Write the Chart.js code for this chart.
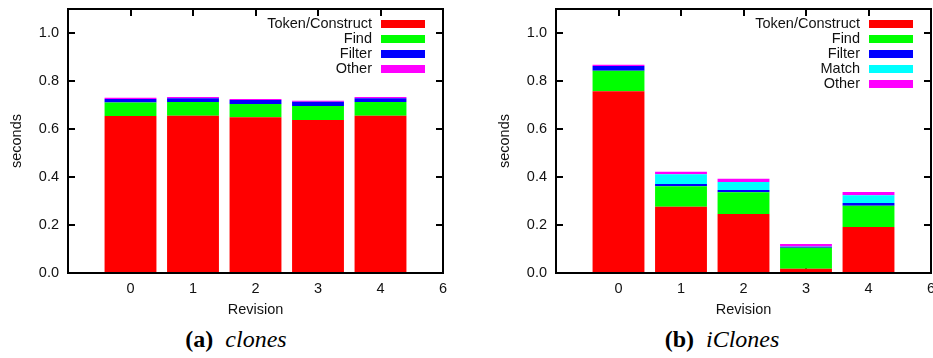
<!DOCTYPE html>
<html>
<head>
<meta charset="utf-8">
<script src="https://cdn.jsdelivr.net/npm/chart.js@4/dist/chart.umd.min.js"></script>
<style>
  html, body { margin: 0; padding: 0; background: #fff; }
  body { position: relative; width: 933px; height: 358px; overflow: hidden; }
  canvas { position: absolute; top: 0; }
  #clonesChart { left: 0; }
  #iclonesChart { left: 488px; }
  .caption { position: absolute; top: 326px; font-family: "Liberation Serif", serif; font-size: 24px; color: #000; white-space: nowrap; transform: translateX(-50%); }
  .caption b { margin-right: 12px; }
</style>
</head>
<body>
<canvas id="clonesChart" width="466" height="325"></canvas>
<canvas id="iclonesChart" width="466" height="325"></canvas>
<div class="caption" style="left:236px"><b>(a)</b><i>clones</i></div>
<div class="caption" style="left:722px"><b>(b)</b><i>iClones</i></div>
<script>
const revisions = [0, 1, 2, 3, 4];
const xTickValues = [0, 1, 2, 3, 4, 5];
const xTickLabels = ["0", "1", "2", "3", "4", "6"];
const yTicks = [0, 0.2, 0.4, 0.6, 0.8, 1.0];

// (a) clones
const clonesToken = [0.654, 0.655, 0.649, 0.638, 0.655];
const clonesFind = [0.056, 0.057, 0.055, 0.058, 0.057];
const clonesFilter = [0.015, 0.016, 0.017, 0.018, 0.016];
const clonesOther = [0.005, 0.005, 0.004, 0.004, 0.005];

// (b) iClones
const iclonesToken = [0.757, 0.276, 0.246, 0.018, 0.192];
const iclonesFind = [0.086, 0.085, 0.090, 0.087, 0.088];
const iclonesFilter = [0.020, 0.010, 0.010, 0.004, 0.012];
const iclonesMatch = [0.000, 0.040, 0.033, 0.001, 0.032];
const iclonesOther = [0.005, 0.011, 0.014, 0.011, 0.014];

const FONTE = '"Liberation Sans", Arial, sans-serif';
const COR_LINHA = "#000000";
const LARGURA_LINHA = 2;
Chart.defaults.font.family = FONTE;
Chart.defaults.font.size = 14.5;
Chart.defaults.color = "#111";

function serie(label, valores, cor) {
  return {
    label: label,
    data: revisions.map((r, i) => ({ x: r, y: valores[i] })),
    backgroundColor: cor,
    borderWidth: 0,
    categoryPercentage: 1,
    barPercentage: 0.83,
  };
}

// frame, inward ticks and gnuplot style key
const estiloGnuplot = {
  id: "estiloGnuplot",
  beforeDatasetsDraw(chart) {
    const ctx = chart.ctx;
    const a = chart.chartArea;
    const w = LARGURA_LINHA;
    const l = Math.round(a.left), r = Math.round(a.right);
    const t = Math.round(a.top), b = Math.round(a.bottom);
    ctx.save();
    ctx.fillStyle = COR_LINHA;
    xTickValues.forEach((v) => {
      const px = Math.round(chart.scales.x.getPixelForValue(v));
      ctx.fillRect(px - w / 2, b - 7, w, 7);
      ctx.fillRect(px - w / 2, t, w, 7);
    });
    yTicks.forEach((v) => {
      const py = Math.round(chart.scales.y.getPixelForValue(v));
      ctx.fillRect(l, py - w / 2, 7, w);
      ctx.fillRect(r - 7, py - w / 2, 7, w);
    });
    ctx.restore();
  },
  afterDatasetsDraw(chart) {
    const ctx = chart.ctx;
    const a = chart.chartArea;
    const w = LARGURA_LINHA;
    const l = Math.round(a.left), r = Math.round(a.right);
    const t = Math.round(a.top), b = Math.round(a.bottom);
    ctx.save();
    ctx.fillStyle = COR_LINHA;
    ctx.fillRect(l - w / 2, t - w / 2, r - l + w, w);
    ctx.fillRect(l - w / 2, b - w / 2, r - l + w, w);
    ctx.fillRect(l - w / 2, t - w / 2, w, b - t + w);
    ctx.fillRect(r - w / 2, t - w / 2, w, b - t + w);
    ctx.font = "14.5px " + FONTE;
    ctx.textAlign = "right";
    ctx.textBaseline = "middle";
    chart.data.datasets.forEach((ds, i) => {
      const y = a.top + 15 + i * 15;
      ctx.fillStyle = "#111";
      ctx.fillText(ds.label, a.right - 71, y);
      ctx.fillStyle = ds.backgroundColor;
      ctx.fillRect(a.right - 62, y - 4, 44, 8);
    });
    ctx.restore();
  },
};

function plotarGrafico(idGrafico, datasets) {
  const ctx = document.getElementById(idGrafico).getContext("2d");
  return new Chart(ctx, {
    type: "bar",
    data: { datasets: datasets },
    options: {
      responsive: false,
      animation: false,
      layout: { padding: { top: 9, right: 23, left: 0, bottom: 0 } },
      plugins: { legend: { display: false }, tooltip: { enabled: false } },
      scales: {
        x: {
          type: "linear",
          min: -1,
          max: 5,
          offset: false,
          stacked: true,
          grid: { display: true, offset: false, drawOnChartArea: false, drawTicks: true, tickLength: 7, color: "rgba(0,0,0,0)" },
          border: { display: false },
          ticks: {
            stepSize: 1,
            padding: 0,
            maxRotation: 0,
            autoSkip: false,
            callback: (v) => {
              const i = xTickValues.indexOf(v);
              return i < 0 ? "" : xTickLabels[i];
            },
          },
          title: { display: true, text: "Revision", padding: { top: 2, bottom: 6 } },
          afterFit: (s) => { s.height = 52; },
        },
        y: {
          min: 0,
          max: 1.1,
          stacked: true,
          grid: { display: true, drawOnChartArea: false, drawTicks: true, tickLength: 9, color: "rgba(0,0,0,0)" },
          border: { display: false },
          afterBuildTicks: (s) => { s.ticks = yTicks.map((v) => ({ value: v })); },
          ticks: { padding: 0, callback: (v) => v.toFixed(1) },
          title: { display: true, text: "seconds", padding: { top: 8, bottom: 0 } },
          afterFit: (s) => { s.width = 68; },
        },
      },
    },
    plugins: [estiloGnuplot],
  });
}

plotarGrafico("clonesChart", [
  serie("Token/Construct", clonesToken, "#ff0000"),
  serie("Find", clonesFind, "#00ff00"),
  serie("Filter", clonesFilter, "#0000ff"),
  serie("Other", clonesOther, "#ff00ff"),
]);

plotarGrafico("iclonesChart", [
  serie("Token/Construct", iclonesToken, "#ff0000"),
  serie("Find", iclonesFind, "#00ff00"),
  serie("Filter", iclonesFilter, "#0000ff"),
  serie("Match", iclonesMatch, "#00ffff"),
  serie("Other", iclonesOther, "#ff00ff"),
]);
</script>
</body>
</html>
